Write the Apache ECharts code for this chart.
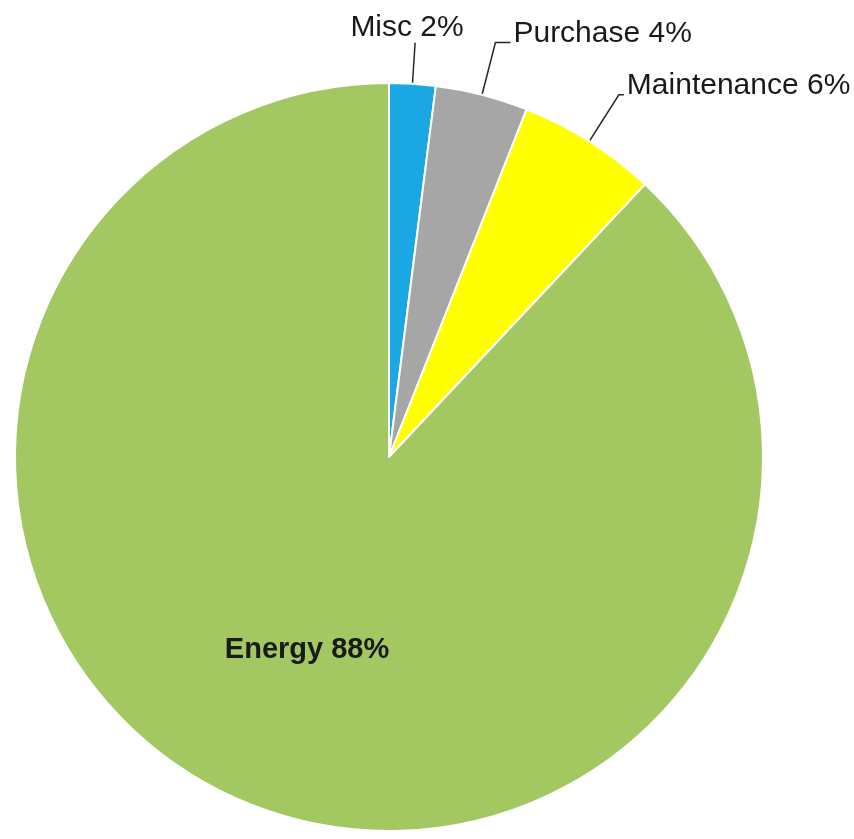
<!DOCTYPE html>
<html>
<head>
<meta charset="utf-8">
<script src="https://cdn.jsdelivr.net/npm/echarts@6/dist/echarts.min.js"></script>
<style>
  html, body { margin: 0; padding: 0; background: #ffffff; }
  #chart { width: 854px; height: 839px; }
</style>
</head>
<body>
<div id="chart"></div>
<script>
// Cost breakdown, clockwise from 12 o'clock
var categories = ['Misc', 'Purchase', 'Maintenance', 'Energy'];
var shares = [2, 4, 6, 88];
var sliceColors = ['#1BA7E4', '#A6A6A6', '#FFFF00', '#A3C862'];

// leader line lengths for the outside labels (radial part, horizontal part)
var leaderLengths = [[41, 0], [54, 15], [55, 5]];

var data = categories.map(function (name, i) {
  var item = { name: name, value: shares[i], itemStyle: { color: sliceColors[i] } };
  if (i < 3) {
    item.labelLine = { show: true, length: leaderLengths[i][0], length2: leaderLengths[i][1] };
  } else {
    item.label = { position: 'inside', fontWeight: 'bold', fontSize: 29, offset: [-12, 16] };
    item.labelLine = { show: false };
  }
  return item;
});

var chart = echarts.init(document.getElementById('chart'), null, { renderer: 'canvas' });
chart.setOption({
  backgroundColor: '#ffffff',
  animation: false,
  series: [{
    type: 'pie',
    center: [389, 457],
    radius: [0, 374],
    startAngle: 90,
    clockwise: true,
    avoidLabelOverlap: false,
    data: data,
    itemStyle: { borderColor: '#ffffff', borderWidth: 2 },
    label: {
      show: true,
      position: 'outside',
      formatter: '{b} {d}%',
      fontFamily: 'Liberation Sans, Arial, sans-serif',
      fontSize: 30,
      color: '#1a1a1a'
    },
    labelLine: {
      lineStyle: { color: '#262626', width: 1.5 }
    },
    labelLayout: function (params) {
      if (params.dataIndex === 3) return {};
      var pts = params.labelLinePoints;
      if (!pts) return {};
      var end = pts[pts.length - 1];
      if (params.dataIndex === 0) {
        return { x: end[0] - 8, y: end[1], align: 'center', verticalAlign: 'bottom', labelLinePoints: pts };
      }
      return { x: end[0] + 3, y: end[1] - 9, align: 'left', verticalAlign: 'middle', labelLinePoints: pts };
    }
  }]
});
</script>
</body>
</html>
